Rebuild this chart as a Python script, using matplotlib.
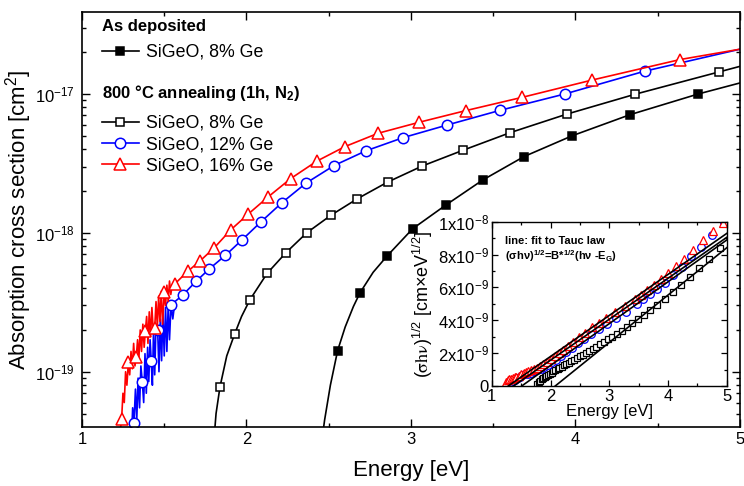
import matplotlib
matplotlib.use("Agg")
import matplotlib.pyplot as plt
from matplotlib.lines import Line2D
from matplotlib.ticker import MultipleLocator, LogLocator, NullFormatter, FixedLocator

plt.rcParams['font.family'] = ['Liberation Sans', 'DejaVu Sans']
plt.rcParams['mathtext.fontset'] = 'stix'

# ---- main plot data: energy [eV] and absorption cross section [cm^2] ----
# as deposited, 8% Ge (filled squares)
dep8_e = [2.455, 2.475, 2.51, 2.554, 2.60, 2.65, 2.69, 2.77, 2.854, 3.01, 3.21, 3.436,
          3.687, 3.98, 4.333, 4.747, 5.0]
dep8_s = [3.0e-20, 4.5e-20, 8.0e-20, 1.42e-19, 2.1e-19, 2.95e-19, 3.7e-19, 5.2e-19, 6.8e-19,
          1.07e-18, 1.58e-18, 2.4e-18, 3.54e-18, 5.0e-18, 7.1e-18, 1.0e-17, 1.2e-17]
dep8_mark = [2.554, 2.69, 2.854, 3.01, 3.21, 3.436, 3.687, 3.98, 4.333, 4.747]

# 800 C annealed, 8% Ge (open squares)
ann8_e = [1.80, 1.815, 1.839, 1.88, 1.928, 1.97, 2.021, 2.125, 2.24, 2.366, 2.514, 2.674,
          2.858, 3.069, 3.318, 3.604, 3.946, 4.362, 4.872, 5.0]
ann8_s = [3.0e-20, 5.0e-20, 7.8e-20, 1.3e-19, 1.87e-19, 2.5e-19, 3.3e-19, 5.1e-19, 7.2e-19,
          1.0e-18, 1.34e-18, 1.76e-18, 2.32e-18, 3.03e-18, 3.94e-18, 5.27e-18, 7.15e-18,
          9.95e-18, 1.44e-17, 1.58e-17]
ann8_mark = [1.839, 1.928, 2.021, 2.125, 2.24, 2.366, 2.514, 2.674, 2.858, 3.069, 3.318,
             3.604, 3.946, 4.362, 4.872]

# 800 C annealed, 12% Ge (open circles), noisy below 1.57 eV
ann12_e = [1.300, 1.308, 1.316, 1.325, 1.333, 1.341, 1.350, 1.358, 1.367, 1.375, 1.383, 1.391,
           1.399, 1.406, 1.414, 1.421, 1.428, 1.435, 1.442, 1.450, 1.460, 1.468, 1.476, 1.484,
           1.492, 1.500, 1.508, 1.516, 1.524, 1.532, 1.541, 1.552, 1.565, 1.612, 1.693, 1.774,
           1.871, 1.973, 2.088, 2.216, 2.362, 2.532, 2.725, 2.953, 3.221, 3.543, 3.936, 4.422, 5.0]
ann12_s = [3.0e-20, 5.5e-20, 4.3e-20, 7.5e-20, 4.5e-20, 9.0e-20, 5.5e-20, 1.1e-19, 8.4e-20,
           6.0e-20, 1.35e-19, 7.0e-20, 1.5e-19, 8.5e-20, 1.7e-19, 1.19e-19, 8.0e-20, 2.0e-19,
           9.5e-20, 2.2e-19, 2.0e-19, 1.0e-19, 2.4e-19, 1.2e-19, 2.7e-19, 1.3e-19, 2.9e-19,
           1.4e-19, 3.0e-19, 1.7e-19, 3.03e-19, 2.4e-19, 3.2e-19, 3.56e-19, 4.47e-19, 5.5e-19,
           6.87e-19, 8.9e-19, 1.2e-18, 1.65e-18, 2.28e-18, 3.05e-18, 3.89e-18, 4.85e-18,
           5.98e-18, 7.63e-18, 1.0e-17, 1.46e-17, 2.1e-17]
ann12_mark = [1.316, 1.367, 1.421, 1.460, 1.541, 1.612, 1.693, 1.774, 1.871, 1.973, 2.088,
              2.216, 2.362, 2.532, 2.725, 2.953, 3.221, 3.543, 3.936, 4.422]

# 800 C annealed, 16% Ge (open triangles), noisy below 1.57 eV
ann16_e = [1.225, 1.233, 1.241, 1.249, 1.257, 1.265, 1.273, 1.282, 1.290, 1.298, 1.306, 1.314,
           1.322, 1.330, 1.338, 1.346, 1.354, 1.362, 1.370, 1.378, 1.385, 1.393, 1.401, 1.409,
           1.417, 1.425, 1.434, 1.442, 1.450, 1.458, 1.466, 1.474, 1.482, 1.490, 1.500, 1.508,
           1.516, 1.524, 1.532, 1.540, 1.548, 1.565, 1.642, 1.719, 1.804, 1.904, 2.009, 2.133,
           2.269, 2.427, 2.599, 2.80, 3.049, 3.332, 3.677, 4.102, 4.637, 5.0]
ann16_s = [3.0e-20, 3.8e-20, 4.6e-20, 7.0e-20, 6.0e-20, 1.0e-19, 8.0e-20, 1.17e-19, 9.5e-20,
           1.4e-19, 1.05e-19, 1.6e-19, 1.1e-19, 1.28e-19, 1.7e-19, 1.25e-19, 2.0e-19, 1.4e-19,
           2.2e-19, 1.5e-19, 1.95e-19, 2.5e-19, 1.6e-19, 2.7e-19, 1.8e-19, 2.9e-19, 1.9e-19,
           2.05e-19, 3.2e-19, 2.1e-19, 3.5e-19, 2.3e-19, 3.8e-19, 2.2e-19, 3.74e-19, 3.0e-19,
           4.2e-19, 3.2e-19, 4.5e-19, 3.6e-19, 4.2e-19, 4.3e-19, 5.27e-19, 6.3e-19, 7.8e-19,
           1.05e-18, 1.36e-18, 1.82e-18, 2.46e-18, 3.28e-18, 4.18e-18, 5.21e-18, 6.25e-18,
           7.58e-18, 9.46e-18, 1.26e-17, 1.77e-17, 2.1e-17]
ann16_mark = [1.241, 1.282, 1.330, 1.385, 1.442, 1.500, 1.565, 1.642, 1.719, 1.804, 1.904,
              2.009, 2.133, 2.269, 2.427, 2.599, 2.80, 3.049, 3.332, 3.677, 4.102, 4.637]

# ---- inset data: (sigma*h*nu)^1/2 [cm eV^1/2] ----
tauc8_e = [1.77, 1.80, 1.82, 1.85, 1.87, 1.90, 1.93, 1.96, 1.99, 2.02, 2.05, 2.08, 2.12, 2.15,
           2.19, 2.23, 2.27, 2.31, 2.35, 2.40, 2.45, 2.50, 2.55, 2.60, 2.66, 2.72, 2.78, 2.84,
           2.91, 2.98, 3.05, 3.13, 3.21, 3.30, 3.39, 3.49, 3.59, 3.70, 3.82, 3.94, 4.08, 4.22,
           4.37, 4.53, 4.70, 4.88]
tauc8_y = [0.10e-9, 0.24e-9, 0.32e-9, 0.41e-9, 0.46e-9, 0.54e-9, 0.61e-9, 0.68e-9, 0.75e-9,
           0.82e-9, 0.89e-9, 0.95e-9, 1.03e-9, 1.09e-9, 1.17e-9, 1.25e-9, 1.34e-9, 1.42e-9,
           1.51e-9, 1.61e-9, 1.71e-9, 1.81e-9, 1.91e-9, 2.02e-9, 2.14e-9, 2.27e-9, 2.40e-9,
           2.54e-9, 2.70e-9, 2.85e-9, 3.01e-9, 3.19e-9, 3.37e-9, 3.58e-9, 3.81e-9, 4.06e-9,
           4.32e-9, 4.62e-9, 4.95e-9, 5.29e-9, 5.70e-9, 6.14e-9, 6.62e-9, 7.16e-9, 7.76e-9,
           8.41e-9]

tauc12_e = [1.32, 1.36, 1.40, 1.44, 1.48, 1.52, 1.56, 1.61, 1.66, 1.71, 1.77, 1.83, 1.89, 1.96,
            2.03, 2.10, 2.18, 2.27, 2.36, 2.46, 2.57, 2.69, 2.82, 2.96, 3.11, 3.28, 3.47, 3.58,
            3.69, 3.81, 3.94, 4.08, 4.23, 4.39, 4.56, 4.75, 4.95]
tauc12_y = [0.24e-9, 0.32e-9, 0.38e-9, 0.46e-9, 0.56e-9, 0.65e-9, 0.70e-9, 0.75e-9, 0.82e-9,
            0.89e-9, 0.98e-9, 1.06e-9, 1.17e-9, 1.30e-9, 1.45e-9, 1.61e-9, 1.81e-9, 2.06e-9,
            2.32e-9, 2.59e-9, 2.88e-9, 3.17e-9, 3.48e-9, 3.80e-9, 4.13e-9, 4.52e-9, 5.00e-9,
            5.30e-9, 5.58e-9, 5.91e-9, 6.28e-9, 6.75e-9, 7.24e-9, 7.90e-9, 8.48e-9, 9.22e-9,
            9.95e-9]

tauc16_e = [1.24, 1.27, 1.30, 1.33, 1.36, 1.39, 1.42, 1.46, 1.50, 1.54, 1.58, 1.62, 1.67, 1.72,
            1.77, 1.82, 1.88, 1.94, 2.00, 2.07, 2.14, 2.21, 2.29, 2.38, 2.48, 2.58, 2.70, 2.82,
            2.95, 3.10, 3.26, 3.44, 3.54, 3.65, 3.76, 3.88, 4.00, 4.13, 4.27, 4.43, 4.59, 4.77,
            4.94]
tauc16_y = [0.24e-9, 0.35e-9, 0.40e-9, 0.42e-9, 0.48e-9, 0.52e-9, 0.54e-9, 0.62e-9, 0.74e-9,
            0.79e-9, 0.84e-9, 0.90e-9, 0.96e-9, 1.04e-9, 1.12e-9, 1.22e-9, 1.35e-9, 1.49e-9,
            1.63e-9, 1.80e-9, 1.98e-9, 2.19e-9, 2.42e-9, 2.68e-9, 2.96e-9, 3.25e-9, 3.57e-9,
            3.86e-9, 4.15e-9, 4.48e-9, 4.86e-9, 5.30e-9, 5.55e-9, 5.83e-9, 6.14e-9, 6.50e-9,
            6.86e-9, 7.28e-9, 7.75e-9, 8.29e-9, 8.87e-9, 9.45e-9, 9.95e-9]

# Tauc fits: band gap (zero crossing) and value at 5 eV
fit_eg = [1.28, 1.37, 1.51, 2.08]
fit_end = [9.29e-9, 9.05e-9, 8.89e-9, 8.42e-9]

RED = '#ff0000'
BLUE = '#0000ff'

fig = plt.figure(figsize=(7.44, 4.86), dpi=100)
ax = fig.add_axes([0.1102, 0.122, 0.8844, 0.8533])

styles = [
    (dep8_e, dep8_s, dep8_mark, dict(color='black', marker='s', markersize=5.5,
                                      markerfacecolor='black')),
    (ann8_e, ann8_s, ann8_mark, dict(color='black', marker='s', markersize=5.5,
                                      markerfacecolor='white')),
    (ann12_e, ann12_s, ann12_mark, dict(color=BLUE, marker='o', markersize=7.5,
                                         markerfacecolor='white')),
    (ann16_e, ann16_s, ann16_mark, dict(color=RED, marker='^', markersize=8,
                                         markerfacecolor='white')),
]
handles = []
for e, s, marks, st in styles:
    idx = [e.index(m) for m in marks]
    ax.plot(e, s, linewidth=1.2, markevery=idx, markeredgewidth=1.1, **st)
    handles.append(Line2D([], [], linewidth=1.2, markeredgewidth=1.1, **st))

ax.set_yscale('log')
ax.set_xlim(1, 5)
ax.set_ylim(4.02e-20, 3.89e-17)
ax.xaxis.set_major_locator(MultipleLocator(1))
ax.xaxis.set_minor_locator(MultipleLocator(0.5))
ax.yaxis.set_major_locator(FixedLocator([1e-19, 1e-18, 1e-17]))
ax.yaxis.set_minor_locator(LogLocator(base=10, subs=range(2, 10), numticks=20))
ax.yaxis.set_minor_formatter(NullFormatter())
ax.set_yticklabels([r'$\mathregular{10^{-19}}$', r'$\mathregular{10^{-18}}$',
                    r'$\mathregular{10^{-17}}$'])
ax.tick_params(which='both', direction='in', top=True, right=True, labelsize=12, width=1.0)
ax.tick_params(axis='y', pad=5)
ax.tick_params(which='major', length=6)
ax.tick_params(which='minor', length=3)
for sp in ax.spines.values():
    sp.set_linewidth(1.2)
ax.set_xlabel('Energy [eV]', fontsize=16, labelpad=10)
ax.set_ylabel(r'Absorption cross section [$\mathregular{cm^2}$]', fontsize=16, labelpad=1)

# legend: bold group headers plus entries
ax.text(0.0304, 0.964, 'As deposited', transform=ax.transAxes, fontsize=12,
        fontweight='bold', va='center', ha='left')
ax.text(0.0304, 0.8045, r'800 °C annealing (1h, $\mathregular{N_2}$)', transform=ax.transAxes,
        fontsize=12, fontweight='bold', va='center', ha='left')
leg1 = ax.legend(handles=[handles[0]], labels=['SiGeO, 8% Ge'], loc='center left',
                 bbox_to_anchor=(0.03, 0.903), frameon=False, fontsize=12.8,
                 handlelength=2.1, handletextpad=0.4, borderpad=0, borderaxespad=0)
ax.add_artist(leg1)
ax.legend(handles=handles[1:], labels=['SiGeO, 8% Ge', 'SiGeO, 12% Ge', 'SiGeO, 16% Ge'],
          loc='center left', bbox_to_anchor=(0.03, 0.68), frameon=False, fontsize=12.8,
          handlelength=2.1, handletextpad=0.4, borderpad=0, borderaxespad=0,
          labelspacing=0.25)

# ---- inset: Tauc plot ----
ins = fig.add_axes([0.661, 0.2058, 0.3159, 0.338])
ins.plot(tauc8_e, tauc8_y, linestyle='none', marker='s', markersize=4.5,
         markerfacecolor='white', markeredgecolor='black', markeredgewidth=0.9)
ins.plot(tauc12_e, tauc12_y, linestyle='none', marker='o', markersize=5.5,
         markerfacecolor='white', markeredgecolor=BLUE, markeredgewidth=0.9)
ins.plot(tauc16_e, tauc16_y, linestyle='none', marker='^', markersize=6,
         markerfacecolor='white', markeredgecolor=RED, markeredgewidth=0.9)
for eg, yend in zip(fit_eg, fit_end):
    ins.plot([eg, 5.0], [0, yend], color='black', linewidth=1.2)
ins.set_xlim(1, 5)
ins.set_ylim(0, 1e-8)
ins.xaxis.set_major_locator(MultipleLocator(1))
ins.xaxis.set_minor_locator(MultipleLocator(0.5))
ins.yaxis.set_major_locator(FixedLocator([0, 2e-9, 4e-9, 6e-9, 8e-9, 1e-8]))
ins.yaxis.set_minor_locator(MultipleLocator(1e-9))
ins.set_yticklabels(['0', r'$\mathregular{2x10^{-9}}$', r'$\mathregular{4x10^{-9}}$',
                     r'$\mathregular{6x10^{-9}}$', r'$\mathregular{8x10^{-9}}$',
                     r'$\mathregular{1x10^{-8}}$'])
ins.tick_params(which='both', direction='in', top=True, right=True, labelsize=12, width=0.9,
                pad=2)
ins.tick_params(which='major', length=4)
ins.tick_params(which='minor', length=2)
for sp in ins.spines.values():
    sp.set_linewidth(1.0)
ins.set_xlabel('Energy [eV]', fontsize=12, labelpad=0)
ins.set_ylabel(r'($\mathrm{\sigma h\nu}$)$\mathregular{^{1/2}}$ [cm×eV$\mathregular{^{1/2}}$]',
               fontsize=13, labelpad=2)
ins.text(0.055, 0.88, 'line: fit to Tauc law', transform=ins.transAxes, fontsize=8,
         fontweight='bold', va='center')
ins.text(0.055, 0.79, r'(σhν)$\mathregular{^{1/2}}$=B*$\mathregular{^{1/2}}$(hν -$\mathregular{E_G}$)',
         transform=ins.transAxes, fontsize=8, fontweight='bold', va='center')

fig.savefig('out.png', dpi=100)
